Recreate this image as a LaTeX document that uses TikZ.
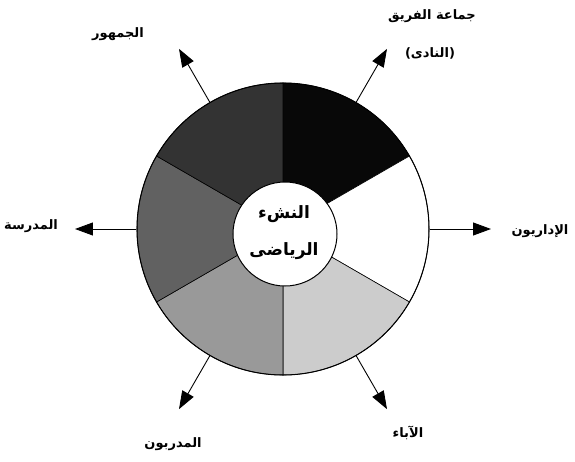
\documentclass[tikz,border=0pt]{standalone}
\usepackage{fontspec}
\usepackage{tikz}
\usetikzlibrary{arrows.meta,positioning}
\newfontfamily\arabicfont[Script=Arabic]{DejaVu Sans}
\TeXXeTstate=1

\begin{document}
\begin{tikzpicture}[x=1pt,y=1pt,
    lbl/.style={font=\arabicfont\bfseries\fontsize{13}{15}\selectfont},
    hubtxt/.style={font=\arabicfont\bfseries\fontsize{17}{19}\selectfont},
    spoke/.style={-{Triangle[length=18pt,width=13pt]},line width=0.9pt}]
  \useasboundingbox (-283,-232) rectangle (292,229);
  % wedges, from start angle, 60 degrees each
  \foreach \a/\c in {30/black!97,-30/white,-90/black!20,-150/black!40,150/black!62,90/black!80} {
    \filldraw[fill=\c,draw=black,line width=0.6pt]
      (0,0) -- (\a:146) arc[start angle=\a,delta angle=60,radius=146] -- cycle;
  }
  \node[circle,draw,line width=1pt,minimum size=292pt,inner sep=0pt] (wheel) at (0,0) {};
  \node[circle,draw,line width=1pt,fill=white,minimum size=104pt,inner sep=0pt] (hub) at (2,-5) {};
  \node[hubtxt] (hubtop) at (1,15) {\beginR النشء\endR};
  \node[hubtxt] (hubbot) at (1,-22) {\beginR الرياضى\endR};

  \foreach \a/\n in {60/club,0/admin,-60/parents,-120/coaches,180/school,120/fans} {
    \coordinate (\n) at (\a:208);
    \draw[spoke] (wheel.\a) -- (\n);
  }

  \node[lbl] (clubA) at (149,213) {\beginR جماعة الفريق\endR};
  \node[lbl] (clubB) at (147,176) {\beginR (النادى)\endR};
  \node[lbl] (fansL) at (-165,195) {\beginR الجمهور\endR};
  \node[lbl] (schoolL) at (-252,3) {\beginR المدرسة\endR};
  \node[lbl] (adminL) at (257,-2) {\beginR الإداريون\endR};
  \node[lbl] (coachesL) at (-110,-215) {\beginR المدربون\endR};
  \node[lbl] (parentsL) at (125,-204) {\beginR الآباء\endR};
\end{tikzpicture}
\end{document}
